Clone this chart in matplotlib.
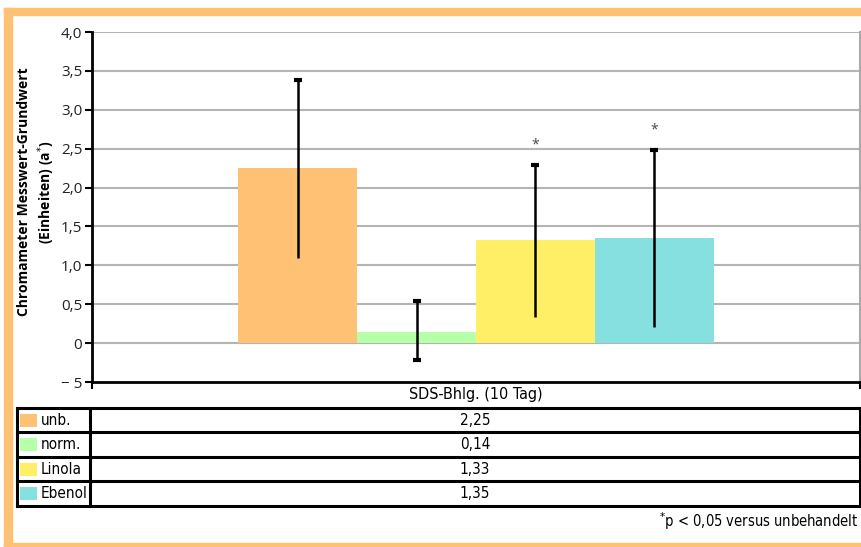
"""
Chromameter a* baseline after SDS treatment (day 10),
bar chart with a small data table underneath.
"""
import numpy as np
import matplotlib
matplotlib.use("Agg")
import matplotlib.pyplot as plt
from matplotlib.patches import Rectangle

GROUPS   = ["unb.", "norm.", "Linola", "Ebenol"]
MEANS    = [2.25, 0.14, 1.33, 1.35]
ERR_LOW  = [1.10, -0.22, 0.34, 0.21]   # lower end of error bar
ERR_HIGH = [3.38, 0.54, 2.29, 2.48]    # upper end of error bar
LOW_CAP  = [False, True, False, False]
SIGNIF   = [False, False, True, True]
COLORS   = ["#FFC174", "#B8FFAA", "#FFEF66", "#86E0E0"]

YTICKS  = [-0.5, 0, 0.5, 1.0, 1.5, 2.0, 2.5, 3.0, 3.5, 4.0]
YLABELS = ["\u2212 5", "0", "0,5", "1,0", "1,5", "2,0", "2,5", "3,0", "3,5", "4,0"]

XLABEL = "SDS-Bhlg. (10 Tag)"
YLABEL = "Chromameter Messwert-Grundwert\n(Einheiten) (a$^{*}$)"
FOOT   = "$^{*}$p < 0,05 versus unbehandelt"

W, H = 861, 547
ORANGE = "#FFC174"
NARROW = dict(family="DejaVu Sans", stretch="condensed")


def fx(px):
    return px / W


def fy(py):
    return 1 - py / H


def main():
    plt.rcParams["font.family"] = ["Open Sans", "DejaVu Sans"]
    fig = plt.figure(figsize=(W / 100, H / 100), dpi=100)

    # orange frame (open on the right)
    for x0, y0, x1, y1 in [(4, 8, 12, 547), (4, 8, 861, 15), (4, 543, 861, 547)]:
        fig.patches.append(Rectangle((fx(x0), fy(y1)), fx(x1 - x0), (y1 - y0) / H,
                                     transform=fig.transFigure, color=ORANGE, zorder=0))

    ax = fig.add_axes([fx(92), fy(382), fx(860 - 92), (382 - 32) / H])
    x = np.arange(len(GROUPS))
    ax.bar(x, MEANS, width=1.0, color=COLORS, zorder=2)

    means = np.array(MEANS)
    lo = means - np.array(ERR_LOW)
    hi = np.array(ERR_HIGH) - means
    ax.errorbar(x, means, yerr=[lo, hi], fmt="none", ecolor="black",
                elinewidth=1.8, capsize=0, zorder=3)
    ax.plot(x, ERR_HIGH, "_", color="black", ms=6, mew=3, zorder=3)
    for i in range(len(GROUPS)):
        if LOW_CAP[i]:
            ax.plot(x[i], ERR_LOW[i], "_", color="black", ms=6, mew=3, zorder=3)
        if SIGNIF[i]:
            ax.text(x[i], ERR_HIGH[i] + 0.26, "*", ha="center", va="center",
                    fontsize=10, color="#444444")

    ax.set_xlim(-1.73, 4.73)
    ax.set_ylim(-0.5, 4.0)
    ax.set_yticks(YTICKS)
    ax.set_yticklabels(YLABELS, fontsize=11, color="#222222")
    for v in YTICKS[1:]:
        ax.axhline(v, color="#b4b4b4", lw=1.5, zorder=1)

    ax.set_xticks([-1.73, 4.73])
    ax.set_xticklabels([])
    ax.tick_params(axis="x", direction="out", length=5, width=1.5, colors="black")
    ax.xaxis.get_major_ticks()[1].tick1line.set_color("#888888")
    ax.tick_params(axis="y", direction="out", length=5, width=1.5, pad=2)
    ax.spines["top"].set_visible(False)
    ax.spines["left"].set_linewidth(2)
    ax.spines["bottom"].set_linewidth(2)
    ax.spines["right"].set_color("#aaaaaa")
    ax.spines["right"].set_linewidth(1.5)

    fig.text(fx(37), fy(192), YLABEL, rotation=90, ha="center", va="center",
             fontsize=10, fontweight="bold", linespacing=1.3)
    fig.text(fx(476), fy(395), XLABEL, ha="center", va="center",
             fontsize=11.5, **NARROW)

    # table below the chart
    tab = fig.add_axes([fx(17), fy(506), fx(860 - 17), (506 - 408) / H])
    tab.set_xlim(17, 860)
    tab.set_ylim(506, 408)
    tab.axis("off")
    row_h = (506 - 408) / len(GROUPS)
    for i, (name, val, col) in enumerate(zip(GROUPS, MEANS, COLORS)):
        top = 408 + i * row_h
        mid = top + row_h / 2
        tab.add_patch(Rectangle((20, mid - 6.5), 17, 13, color=col, lw=0))
        tab.text(41, mid, name, ha="left", va="center", fontsize=11, **NARROW)
        tab.text(475, mid, f"{val:.2f}".replace(".", ","), ha="center", va="center",
                 fontsize=11, **NARROW)
    for i in range(len(GROUPS) + 1):
        tab.plot([17, 860], [408 + i * row_h] * 2, color="black", lw=2.2,
                 solid_capstyle="projecting", clip_on=False)
    for xv in (17, 90.5, 860):
        tab.plot([xv, xv], [408, 506], color="black", lw=2.2, clip_on=False)

    fig.text(fx(858), fy(521), FOOT, ha="right", va="center", fontsize=10.5, **NARROW)

    fig.savefig("out.png", dpi=100)


if __name__ == "__main__":
    main()
